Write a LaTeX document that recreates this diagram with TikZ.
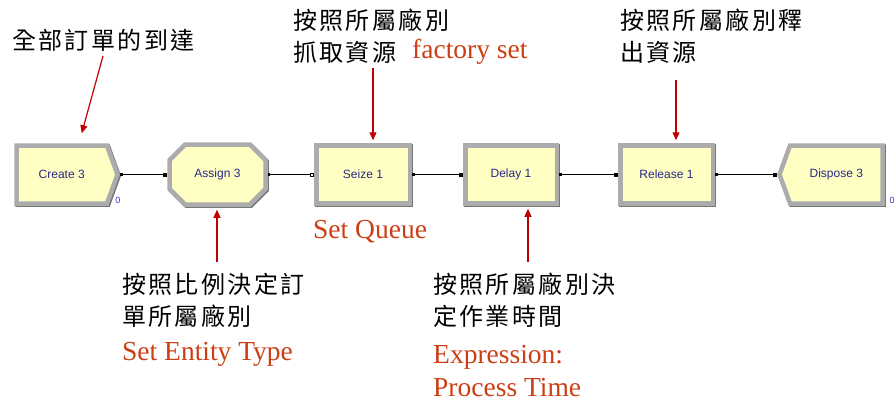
\documentclass[tikz,border=0pt]{standalone}
\usepackage{fontspec}
\setmainfont{Liberation Serif}
\newfontfamily\cjkfont[LetterSpace=10]{Noto Sans CJK TC}
\newfontfamily\blockfont{Liberation Sans}
\usetikzlibrary{shapes.misc,shapes.symbols,arrows.meta,positioning}

\definecolor{blockfill}{RGB}{255,255,196}
\definecolor{blocktext}{RGB}{40,40,140}
\definecolor{bevel}{RGB}{172,172,172}
\definecolor{beveldark}{RGB}{118,118,118}
\definecolor{notered}{RGB}{204,62,20}
\definecolor{arrowred}{RGB}{192,0,0}
\definecolor{countblue}{RGB}{50,50,210}

\begin{document}
\begin{tikzpicture}[x=1pt,y=-1pt,
  block/.style={draw=bevel,line width=4.5pt,fill=blockfill,text=blocktext,
    font=\blockfont\fontsize{12}{14}\selectfont,inner sep=0pt,
    minimum height=58pt,
    preaction={draw=beveldark,line width=4.5pt,transform canvas={shift={(1.2pt,-1.2pt)}}}},
  note/.style={anchor=west,inner sep=0pt,font=\cjkfont\fontsize{24}{28}\selectfont},
  rednote/.style={anchor=west,inner sep=0pt,text=notered,font=\fontsize{27.5}{31}\selectfont},
  count/.style={inner sep=0pt,text=countblue,font=\blockfont\fontsize{9}{10}\selectfont},
  link/.style={line width=0.8pt,{Square[length=2.5pt,width=2.5pt]}-{Square[length=4pt,width=4pt]}},
  notearrow/.style={draw=arrowred,line width=1.2pt,-{Triangle[length=8pt,width=7pt]},arrowred}]

  \useasboundingbox (0,0) rectangle (894,405);

  % the blocks
  \node[block,signal,signal to=east,signal pointer angle=140,minimum width=101pt,anchor=west] (create) at (14.25,174.5) {Create 3};
  \node[block,chamfered rectangle,chamfered rectangle xsep=10pt,chamfered rectangle ysep=10pt,minimum width=96pt,minimum height=60pt] (assign) at (217.5,174.5) {Assign 3};
  \node[block,rectangle,minimum width=93.5pt] (seize) at (363,174.5) {Seize 1};
  \node[block,rectangle,minimum width=91.5pt] (delay) at (511,174.5) {Delay 1};
  \node[block,rectangle,minimum width=92.5pt] (release) at (666.5,174.5) {Release 1};
  \node[block,signal,signal to=west,signal pointer angle=140,minimum width=103pt,anchor=east] (dispose) at (884.75,174.5) {Dispose 3};

  \node[count] (count1) at (118,200) {0};
  \node[count] (count2) at (892,200) {0};

  \draw[link] (create.east) -- (assign.west);
  \draw[line width=0.8pt,{Square[length=2.5pt,width=2.5pt]}-{Square[open,length=4pt,width=4pt]}] (assign.east) -- (seize.west);
  \draw[link] (seize.east) -- (delay.west);
  \draw[link] (delay.east) -- (release.west);
  \draw[link] (release.east) -- (dispose.west);

  % the notes
  \node[note] (arrival) at (12,40) {全部訂單的到達};
  \node[note] (seize1) at (293,20) {按照所屬廠別};
  \node[note] (seize2) at (293,52) {抓取資源};
  \node[rednote] (factory) at (412,52) {factory set};
  \node[note] (release1) at (620,20) {按照所屬廠別釋};
  \node[note] (release2) at (620,52) {出資源};
  \node[rednote] (queue) at (313,232) {Set Queue};
  \node[note] (assign1) at (122,284) {按照比例決定訂};
  \node[note] (assign2) at (122,316) {單所屬廠別};
  \node[rednote] (entity) at (122,354) {Set Entity Type};
  \node[note] (delay1) at (433,284) {按照所屬廠別決};
  \node[note] (delay2) at (433,316) {定作業時間};
  \node[rednote] (expr1) at (433,357) {Expression:};
  \node[rednote] (expr2) at (433,388) {Process Time};

  \coordinate (arrivalfoot) at (103,56);
  \coordinate (seizefoot) at (373,68);
  \coordinate (releasefoot) at (676,80);
  \coordinate (assignfoot) at (217,262);
  \coordinate (delayfoot) at (528,262);

  \draw[notearrow] (arrivalfoot) -- ([xshift=20pt,yshift=10pt]create.north);
  \draw[notearrow] (seizefoot) -- ([xshift=10pt,yshift=3pt]seize.north);
  \draw[notearrow] (releasefoot) -- ([xshift=9.5pt,yshift=3pt]release.north);
  \draw[notearrow] (assignfoot) -- ([xshift=-0.5pt,yshift=-3pt]assign.south);
  \draw[notearrow] (delayfoot) -- ([xshift=17pt,yshift=-3pt]delay.south);
\end{tikzpicture}
\end{document}
